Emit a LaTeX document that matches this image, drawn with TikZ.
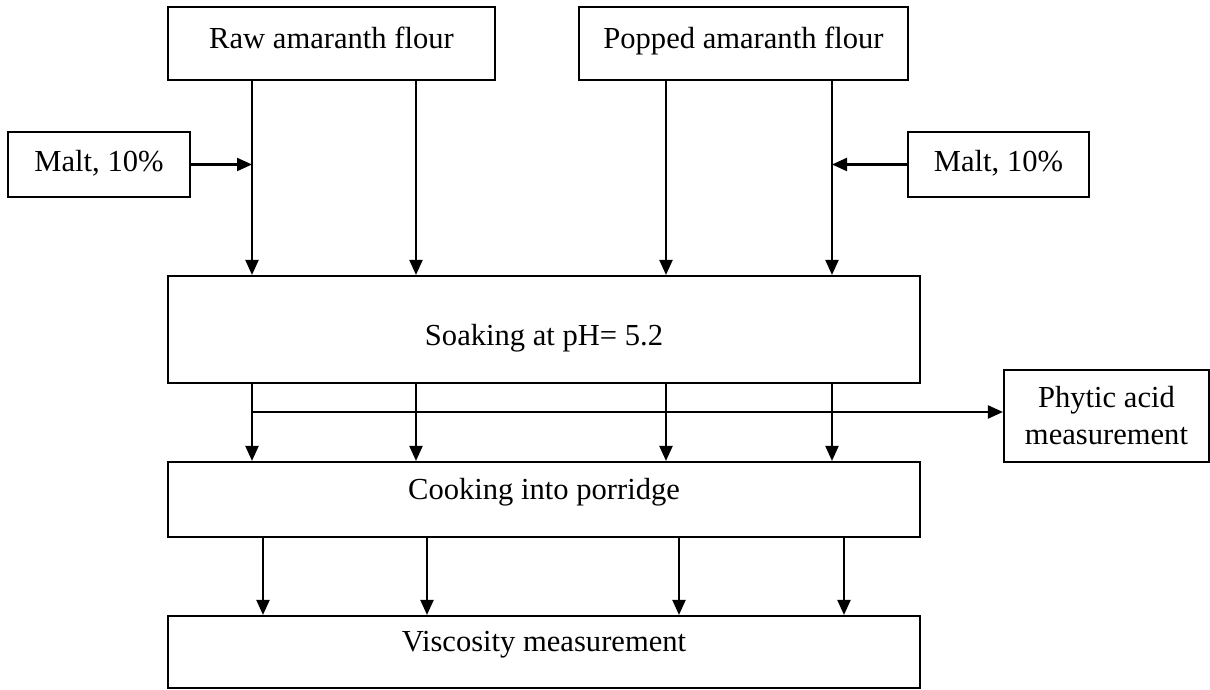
\documentclass[tikz,border=0pt]{standalone}
\usepackage{fontspec}
\setmainfont{Liberation Serif}
\usepackage{tikz}
\usetikzlibrary{positioning}
\usetikzlibrary{arrows.meta}
\tikzstyle{box}=[draw,line width=0.6,inner sep=0,font=\fontsize{8.7}{10.5}\selectfont]
\tikzstyle{flow}=[-{Triangle[length=1.5mm,width=1.3mm]},line width=0.6]
\tikzset{lift/.style={text depth=0pt,text height=#1}}

\begin{document}
\begin{tikzpicture}[x=0.1mm,y=-0.1mm]
  \def\W{75.2mm} % width of the process boxes
  \useasboundingbox (0,0) rectangle (1210,690);
  
  % FLOURS & MALT
  \node[box,lift=1.1mm,minimum width=32.7mm,minimum height=7.3mm] (raw) at (331.5,43.5) {Raw amaranth flour};
  \node[box,lift=1.1mm,minimum width=32.9mm,minimum height=7.3mm] (popped) at (743.5,43.5) {Popped amaranth flour};
  \node[box,lift=1.5mm,minimum width=18.2mm,minimum height=6.5mm] (maltL) at (99,164.5) {Malt, 10\%};
  \node[box,lift=1.5mm,minimum width=18.1mm,minimum height=6.5mm] (maltR) at (998.5,164.5) {Malt, 10\%};
  
  % PROCESS STEPS
  \node[box,lift=3.3mm,minimum width=\W,minimum height=10.7mm] (soak) at (544,329.5) {Soaking at pH= 5.2};
  \node[box,align=center,minimum width=20.5mm,minimum height=9.2mm] (phytic) at (1106.5,416) {Phytic acid\\measurement};
  \node[box,lift=0pt,minimum width=\W,minimum height=7.5mm] (cook) at (544,499.5) {Cooking into porridge};
  \node[box,lift=0pt,minimum width=\W,minimum height=7.2mm] (visc) at (544,652) {Viscosity measurement};
  
  % COLUMNS OF ARROWS
  \coordinate (a1) at (252,0);
  \coordinate (a2) at (416,0);
  \coordinate (a3) at (666,0);
  \coordinate (a4) at (832,0);
  \coordinate (b1) at (263,0);
  \coordinate (b2) at (427,0);
  \coordinate (b3) at (679,0);
  \coordinate (b4) at (844,0);
  \coordinate (split) at (252,412);
  
  \draw[flow] (raw.south-|a1) -- (soak.north-|a1);
  \draw[flow] (raw.south-|a2) -- (soak.north-|a2);
  \draw[flow] (popped.south-|a3) -- (soak.north-|a3);
  \draw[flow] (popped.south-|a4) -- (soak.north-|a4);
  \draw[flow] (maltL.east) -- (maltL.east-|a1);
  \draw[flow] (maltR.west) -- (maltR.west-|a4);
  
  \foreach \c in {a1,a2,a3,a4}
    \draw[flow] (soak.south-|\c) -- (cook.north-|\c);
  \draw[flow] (split) -- (split-|phytic.west);
  \foreach \c in {b1,b2,b3,b4}
    \draw[flow] (cook.south-|\c) -- (visc.north-|\c);
  
\end{tikzpicture}
\end{document}
